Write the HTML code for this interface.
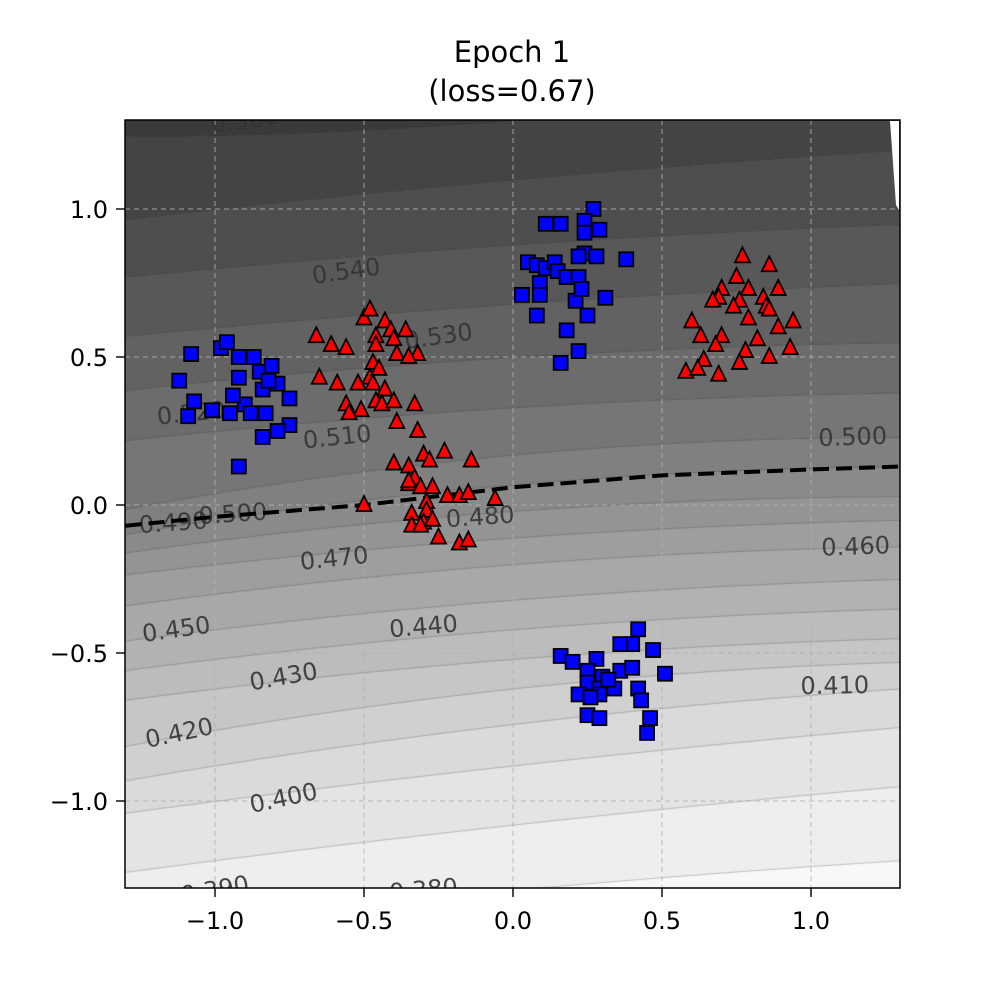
<!DOCTYPE html>
<html><head><meta charset="utf-8"><style>
body{margin:0;background:#fff;width:1000px;height:1000px;position:relative;overflow:hidden;font-family:"DejaVu Sans","Liberation Sans",sans-serif}
#cv{position:absolute;left:125px;top:120px}
#ov{position:absolute;left:0;top:0}
svg text{font-family:"DejaVu Sans","Liberation Sans",sans-serif}
</style></head><body>
<canvas id="cv" width="775" height="768"></canvas>
<svg id="ov" width="1000" height="1000">
<defs><clipPath id="clip"><rect x="125" y="120" width="775" height="768"/></clipPath></defs>
<g id="grid"></g>
<polygon points="890,121 899,121 899,210 896,205" fill="#fff"/>
<g id="labels" clip-path="url(#clip)" font-size="24" fill="#333" fill-opacity="0.9" text-anchor="middle"></g>
<path id="boundary" fill="none" stroke="#000" stroke-width="4" stroke-dasharray="16,7" clip-path="url(#clip)"/>
<g id="pts" clip-path="url(#clip)"></g>
<rect x="125" y="120" width="775" height="768" fill="none" stroke="#000" stroke-width="1.5"/>
<g id="ticks" font-size="24" fill="#000"></g>
<text x="512" y="62" font-size="29" text-anchor="middle">Epoch 1</text>
<text x="512" y="101" font-size="29" text-anchor="middle">(loss=0.67)</text>
</svg>
<script>
const tickVals=[-1.0,-0.5,0.0,0.5,1.0];
const tickLabels=["\u22121.0","\u22120.5","0.0","0.5","1.0"];
const levels=[0.38,0.39,0.40,0.41,0.42,0.43,0.44,0.45,0.46,0.47,0.48,0.49,0.50,0.51,0.52,0.53,0.54,0.55,0.56];
const levelYLeft=[-1.4,-1.2,-1.0,-0.88,-0.76,-0.62,-0.52,-0.42,-0.3,-0.2,-0.12,-0.05,0.04,0.25,0.42,0.6,0.8,1.0,1.25];
const levelYMid=[-1.3,-1.08,-0.88,-0.74,-0.62,-0.52,-0.42,-0.32,-0.2,-0.11,-0.02,0.07,0.17,0.33,0.5,0.68,0.88,1.1,1.3];
const levelYRight=[-1.2,-0.95,-0.75,-0.62,-0.53,-0.45,-0.35,-0.25,-0.14,-0.05,0.03,0.13,0.23,0.38,0.55,0.75,0.95,1.2,1.45];
const boundaryX=[-1.3,-1.0,-0.5,0.0,0.5,1.0,1.3];
const boundaryY=[-0.07,-0.04,0.0,0.06,0.10,0.12,0.13];
const blueX=[-1.12,-1.08,-1.07,-1.09,-1.01,-0.98,-0.96,-0.92,-0.87,-0.92,-0.90,-0.95,-0.88,-0.85,-0.84,-0.83,-0.84,-0.81,-0.79,-0.75,-0.75,-0.79,-0.92,-0.94,-0.82,
0.11,0.16,0.27,0.24,0.29,0.24,0.24,0.22,0.28,0.38,0.05,0.08,0.11,0.14,0.15,0.18,0.22,0.09,0.03,0.09,0.21,0.31,0.25,0.08,0.18,0.22,0.16,0.23,
0.42,0.40,0.36,0.47,0.16,0.20,0.28,0.25,0.36,0.30,0.40,0.51,0.25,0.29,0.42,0.34,0.22,0.29,0.43,0.25,0.29,0.46,0.45,0.32,0.26];
const blueY=[0.42,0.51,0.35,0.30,0.32,0.53,0.55,0.50,0.50,0.43,0.34,0.31,0.31,0.45,0.39,0.31,0.23,0.47,0.41,0.36,0.27,0.25,0.13,0.37,0.42,
0.95,0.95,1.00,0.96,0.93,0.92,0.85,0.84,0.84,0.83,0.82,0.81,0.80,0.82,0.79,0.77,0.77,0.75,0.71,0.71,0.69,0.70,0.64,0.64,0.59,0.52,0.48,0.73,
-0.42,-0.47,-0.47,-0.49,-0.51,-0.53,-0.52,-0.56,-0.56,-0.58,-0.55,-0.57,-0.60,-0.62,-0.62,-0.62,-0.64,-0.64,-0.66,-0.71,-0.72,-0.72,-0.77,-0.59,-0.65];
const redX=[-0.66,-0.61,-0.56,-0.50,-0.48,-0.43,-0.41,-0.36,-0.40,-0.46,-0.46,-0.47,-0.39,-0.32,-0.35,-0.65,-0.59,-0.52,-0.48,-0.45,-0.47,-0.43,-0.56,-0.51,-0.46,-0.44,-0.40,-0.33,-0.55,-0.39,-0.32,-0.23,-0.40,-0.35,-0.30,-0.28,-0.14,-0.33,-0.35,-0.31,-0.27,-0.35,-0.22,-0.18,-0.15,-0.06,-0.50,-0.29,-0.34,-0.29,-0.30,-0.34,-0.31,-0.25,-0.18,-0.15,-0.27,
0.77,0.86,0.75,0.70,0.79,0.89,0.69,0.67,0.76,0.84,0.85,0.74,0.86,0.60,0.94,0.79,0.89,0.63,0.70,0.68,0.82,0.93,0.78,0.64,0.86,0.58,0.62,0.69,0.76];
const redY=[0.57,0.54,0.53,0.63,0.66,0.62,0.59,0.59,0.56,0.57,0.54,0.48,0.51,0.51,0.50,0.43,0.41,0.41,0.43,0.46,0.41,0.39,0.34,0.32,0.35,0.34,0.35,0.34,0.31,0.28,0.25,0.18,0.14,0.13,0.17,0.15,0.15,0.09,0.07,0.06,0.06,0.08,0.03,0.03,0.04,0.02,0.00,0.01,-0.03,-0.02,-0.06,-0.07,-0.07,-0.11,-0.13,-0.12,-0.05,
0.84,0.81,0.77,0.73,0.73,0.73,0.70,0.69,0.69,0.70,0.67,0.67,0.66,0.62,0.62,0.63,0.60,0.57,0.57,0.54,0.56,0.53,0.52,0.49,0.50,0.45,0.46,0.44,0.48];
const labelText=["0.560","0.540","0.530","0.520","0.510","0.490","0.500","0.480","0.470","0.460","0.500","0.450","0.440","0.430","0.420","0.410","0.400","0.390","0.380"];
const labelX=[-0.9,-0.56,-0.25,-1.08,-0.59,-1.14,-0.94,-0.11,-0.6,1.15,1.14,-1.13,-0.3,-0.77,-1.12,1.08,-0.77,-1.0,-0.3];
const labelY=[1.3,0.79,0.57,0.31,0.23,-0.06,-0.03,-0.04,-0.18,-0.14,0.23,-0.42,-0.41,-0.58,-0.77,-0.61,-0.99,-1.3,-1.3];
const labelRot=[-8,-8,-8,-6,-6,-4,-4,-4,-6,-2,-2,-8,-5,-10,-12,-1,-12,-10,-5];

const X=x=>513+298*x, Y=y=>505-296*y;
const NS="http://www.w3.org/2000/svg";
function mk(tag,attrs,parent){const e=document.createElementNS(NS,tag);for(const k in attrs)e.setAttribute(k,attrs[k]);parent.appendChild(e);return e;}
function quad(x,a,b,c){const x0=-1.0,x1=0,x2=1.3;
 return a*(x-x1)*(x-x2)/((x0-x1)*(x0-x2))+b*(x-x0)*(x-x2)/((x1-x0)*(x1-x2))+c*(x-x0)*(x-x1)/((x2-x0)*(x2-x1));}
const ctx=document.getElementById('cv').getContext('2d');
const gray=b=>{const g=Math.round(248-b*10);return `rgb(${g},${g},${g})`;};
for(let px=0;px<775;px++){
 const x=(125+px+0.5-513)/298;
 const ys=levels.map((l,i)=>Y(quad(x,levelYLeft[i],levelYMid[i],levelYRight[i]))-120);
 let bottom=768;
 for(let b=0;b<=levels.length;b++){
  const top=b<levels.length?Math.max(0,ys[b]):0;
  if(bottom>top){ctx.fillStyle=gray(b);ctx.fillRect(px,top,1,bottom-top+0.5);}
  bottom=Math.min(bottom,top);
 }
 ctx.fillStyle="rgba(40,40,40,0.25)";
 ys.forEach(y=>{if(y>0&&y<768)ctx.fillRect(px,y,1,1);});
}
const grid=document.getElementById('grid'),ticks=document.getElementById('ticks');
tickVals.forEach((v,i)=>{
 let l=mk('line',{x1:X(v),x2:X(v),y1:120,y2:888,stroke:"#b0b0b0","stroke-opacity":0.7,"stroke-dasharray":"5,4","stroke-width":1.2},grid);
 
 l=mk('line',{y1:Y(v),y2:Y(v),x1:125,x2:900,stroke:"#b0b0b0","stroke-opacity":0.7,"stroke-dasharray":"5,4","stroke-width":1.2},grid);
 
 mk('line',{x1:X(v),x2:X(v),y1:888,y2:897,stroke:"#000","stroke-width":1.4},ticks);
 mk('line',{y1:Y(v),y2:Y(v),x1:116,x2:125,stroke:"#000","stroke-width":1.4},ticks);
 let t=mk('text',{x:X(v),y:929,"text-anchor":"middle"},ticks);t.textContent=tickLabels[i];
 
 t=mk('text',{x:108,y:Y(v)+9,"text-anchor":"end"},ticks);t.textContent=tickLabels[i];
 
});
const lg=document.getElementById('labels');
labelText.forEach((s,i)=>{
 const t=mk('text',{x:X(labelX[i]),y:Y(labelY[i])+8,transform:`rotate(${labelRot[i]} ${X(labelX[i])} ${Y(labelY[i])})`},lg);
 t.textContent=s;
 
});
document.getElementById('boundary').setAttribute('d',boundaryX.map((x,i)=>(i?'L':'M')+X(x)+','+Y(boundaryY[i])).join(''));
const pg=document.getElementById('pts');
redX.forEach((x,i)=>{
 const cx=X(x),cy=Y(redY[i]);
 const p=mk('polygon',{points:`${cx},${cy-9} ${cx-7.5},${cy+6} ${cx+7.5},${cy+6}`,fill:"#f00",stroke:"#000","stroke-width":1.8},pg);
 
});
blueX.forEach((x,i)=>{
 const cx=X(x),cy=Y(blueY[i]);
 const r=mk('rect',{x:cx-7,y:cy-7,width:14,height:14,fill:"#00f",stroke:"#000","stroke-width":1.8},pg);
 
});
</script>
</body></html>
